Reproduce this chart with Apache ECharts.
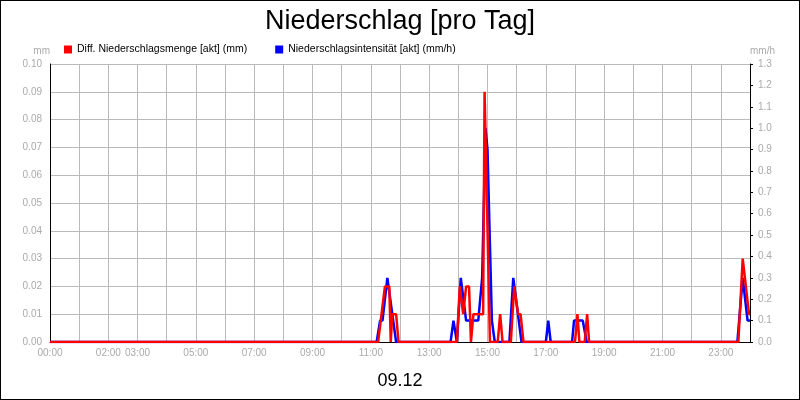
<!DOCTYPE html>
<html><head><meta charset="utf-8">
<script src="https://cdn.jsdelivr.net/npm/echarts@6/dist/echarts.min.js"></script>
<style>html,body{margin:0;padding:0}#c{width:798px;height:398px;border:1px solid #000}</style>
</head><body><div id="c"></div>
<script>
// minutes of day and values
const redMin = [0,675,689,698,701,704,712,717,837,843,850,856,862,866,871,891,894,898,905,921,926,931,948,955,963,968,974,1080,1085,1089,1100,1105,1109,1416,1425,1438,1440];
const redVal = [0,0,0.02,0.02,0,0.01,0.01,0,0,0.02,0.01,0.02,0.02,0,0.01,0.01,0.09,0.09,0,0,0.01,0,0,0.02,0.01,0.01,0,0,0.01,0,0,0.01,0,0,0.03,0.01,0.01];
const blueMin = [0,672,679,684,694,698,706,712,824,830,837,845,856,881,889,896,900,909,915,945,953,957,970,1020,1025,1030,1074,1078,1096,1104,1414,1425,1435,1440];
const blueVal = [0,0,0.1,0.1,0.3,0.3,0.1,0,0,0.1,0,0.3,0.1,0.1,0.3,1.0,0.9,0.1,0,0,0.3,0.3,0,0,0.1,0,0,0.1,0.1,0,0,0.3,0.1,0.1];
const tickHours = [0,2,3,5,7,9,11,13,15,17,19,21,23];
const pair = (m,v)=>m.map((x,i)=>[x,v[i]]);
const ch = echarts.init(document.getElementById('c'));
const gray = '#aaa';
ch.setOption({
  backgroundColor:'#fff',
  animation:false,
  title:[{text:'Niederschlag [pro Tag]',left:'center',top:2,textStyle:{fontFamily:'Liberation Sans',fontSize:27,fontWeight:'normal',color:'#000'}},
         {text:'09.12',left:'center',top:366,textStyle:{fontFamily:'Liberation Sans',fontSize:18,fontWeight:'normal',color:'#000'}}],
  legend:{top:38,left:58,itemWidth:8,itemHeight:8,itemGap:28,icon:'rect',
    textStyle:{fontFamily:'Liberation Sans',fontSize:10.5,color:'#000'},
    data:['Diff. Niederschlagsmenge [akt] (mm)','Niederschlagsintensität [akt] (mm/h)']},
  grid:{left:49,right:49,top:63,bottom:57},
  xAxis:{type:'value',min:0,max:1440,interval:60,
    axisLine:{lineStyle:{color:'#000'}},axisTick:{show:false},
    splitLine:{show:true,lineStyle:{color:'#bbb'}},
    axisLabel:{color:gray,fontSize:10,fontFamily:'Liberation Sans',margin:6,
      formatter:v=>{const h=v/60;return tickHours.includes(h)?String(h).padStart(2,'0')+':00':'';}}},
  yAxis:[{type:'value',min:0,max:0.1,interval:0.01,name:'mm',nameGap:8,
      nameTextStyle:{color:gray,fontSize:10,align:'right'},
      axisLine:{show:true,lineStyle:{color:'#000'}},axisTick:{show:false},
      splitLine:{lineStyle:{color:'#bbb'}},
      axisLabel:{color:gray,fontSize:10,fontFamily:'Liberation Sans',formatter:v=>v.toFixed(2)}},
    {type:'value',min:0,max:1.3,interval:0.1,name:'mm/h',nameGap:8,position:'right',
      nameTextStyle:{color:gray,fontSize:10,align:'left'},
      axisLine:{show:true,lineStyle:{color:'#000'}},axisTick:{show:true,length:3,inside:false,lineStyle:{color:'#000'}},
      splitLine:{show:false},
      axisLabel:{color:gray,fontSize:10,fontFamily:'Liberation Sans',formatter:v=>v.toFixed(1)}}],
  series:[
    {name:'Niederschlagsintensität [akt] (mm/h)',type:'line',yAxisIndex:1,data:pair(blueMin,blueVal),
      showSymbol:false,lineStyle:{color:'#0000ff',width:2.5},itemStyle:{color:'#0000ff'},z:2},
    {name:'Diff. Niederschlagsmenge [akt] (mm)',type:'line',yAxisIndex:0,data:pair(redMin,redVal),
      showSymbol:false,lineStyle:{color:'#ff0000',width:2.5},itemStyle:{color:'#ff0000'},z:3}
  ]
});
</script></body></html>
